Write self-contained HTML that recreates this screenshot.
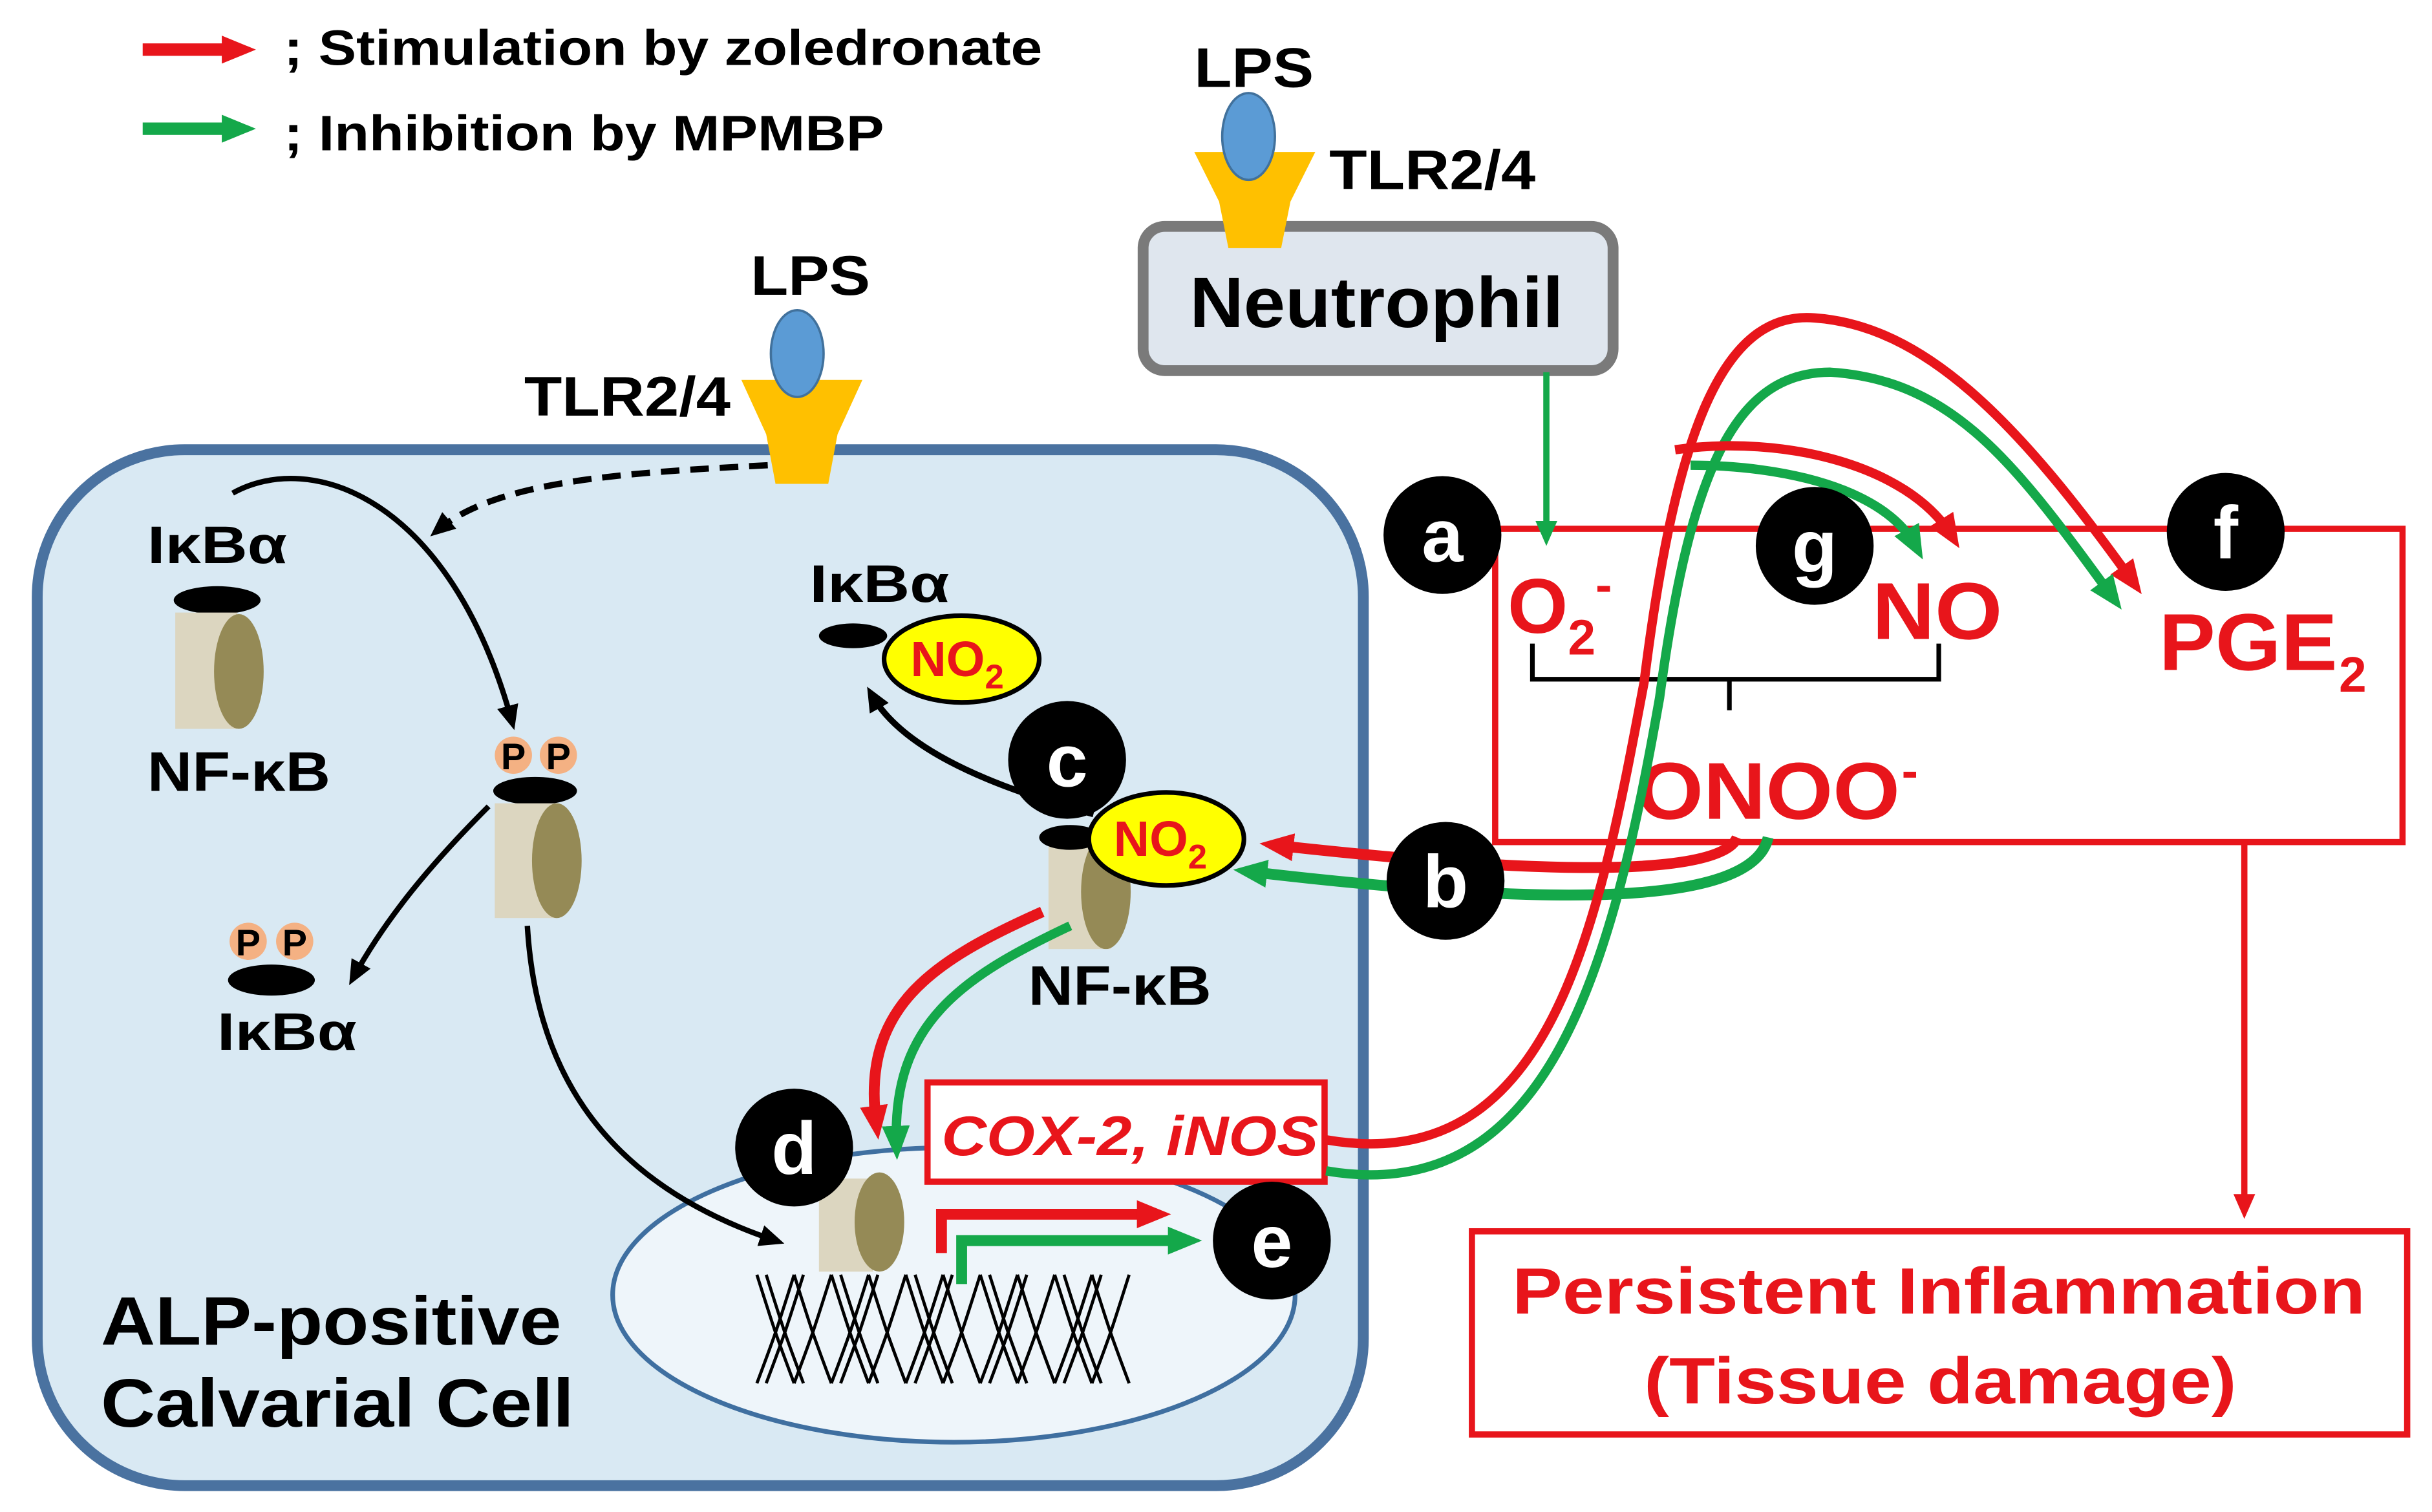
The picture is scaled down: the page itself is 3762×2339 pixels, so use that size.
<!DOCTYPE html>
<html><head><meta charset="utf-8"><style>html,body{margin:0;padding:0;background:#fff}svg{display:block}text{font-family:"Liberation Sans",sans-serif;font-weight:bold}</style></head>
<body>
<svg width="3762" height="2339" viewBox="0 0 1568 975" preserveAspectRatio="none" xmlns="http://www.w3.org/2000/svg">
<defs>
<marker id="ar" markerWidth="22" markerHeight="22" refX="12" refY="11" orient="auto" markerUnits="userSpaceOnUse"><path d="M0,2 L22,11 L0,20 z" fill="#e8151b"/></marker>
<marker id="ag" markerWidth="22" markerHeight="22" refX="12" refY="11" orient="auto" markerUnits="userSpaceOnUse"><path d="M0,2 L22,11 L0,20 z" fill="#14a84a"/></marker>
<marker id="ars" markerWidth="16" markerHeight="16" refX="10" refY="8" orient="auto" markerUnits="userSpaceOnUse"><path d="M0,1 L16,8 L0,15 z" fill="#e8151b"/></marker>
<marker id="ags" markerWidth="16" markerHeight="16" refX="10" refY="8" orient="auto" markerUnits="userSpaceOnUse"><path d="M0,1 L16,8 L0,15 z" fill="#14a84a"/></marker>
<marker id="ak" markerWidth="16" markerHeight="16" refX="10" refY="8" orient="auto" markerUnits="userSpaceOnUse"><path d="M0,1 L16,8 L0,15 z" fill="#000"/></marker>
</defs>
<!-- legend -->
<line x1="92" y1="32" x2="155" y2="32" stroke="#e8151b" stroke-width="8" marker-end="url(#ar)"/>
<text x="183" y="42" font-size="32" textLength="489" lengthAdjust="spacingAndGlyphs">; Stimulation by zoledronate</text>
<line x1="92" y1="83" x2="155" y2="83" stroke="#14a84a" stroke-width="8" marker-end="url(#ag)"/>
<text x="183" y="97" font-size="32" textLength="387" lengthAdjust="spacingAndGlyphs">; Inhibition by MPMBP</text>

<!-- cell -->
<rect x="24" y="290" width="855" height="668" rx="95" fill="#d9e9f3" stroke="#4a72a0" stroke-width="7"/>
<ellipse cx="615" cy="835" rx="220" ry="95" fill="#eef5fa" stroke="#3f6fa0" stroke-width="3"/>

<!-- neutrophil -->
<rect x="737" y="146" width="303" height="93" rx="14" fill="#dfe6ee" stroke="#7a7a7a" stroke-width="7"/>
<text x="767" y="211" font-size="46" textLength="241" lengthAdjust="spacingAndGlyphs">Neutrophil</text>
<path d="M770,98 L848,98 L832,130 L826,160 L792,160 L786,130 Z" fill="#ffc000"/>
<ellipse cx="805" cy="88" rx="17" ry="28" fill="#5b9bd5" stroke="#41719c" stroke-width="1.5"/>
<text x="770" y="56" font-size="36" textLength="77" lengthAdjust="spacingAndGlyphs">LPS</text>
<text x="857" y="122" font-size="36" textLength="133" lengthAdjust="spacingAndGlyphs">TLR2/4</text>

<!-- cell receptor -->
<path d="M478,245 L556,245 L540,280 L534,312 L500,312 L494,280 Z" fill="#ffc000"/>
<ellipse cx="514" cy="228" rx="17" ry="28" fill="#5b9bd5" stroke="#41719c" stroke-width="1.5"/>
<text x="484" y="190" font-size="36" textLength="77" lengthAdjust="spacingAndGlyphs">LPS</text>
<text x="338" y="268" font-size="36" textLength="133" lengthAdjust="spacingAndGlyphs">TLR2/4</text>
<path d="M495,300 C400,305 320,310 282,342" fill="none" stroke="#000" stroke-width="4" stroke-dasharray="12,7" marker-end="url(#ak)"/>

<!-- IkBa / NF-kB left -->
<text x="95" y="363" font-size="34" textLength="90" lengthAdjust="spacingAndGlyphs">IκBα</text>
<ellipse cx="140" cy="387" rx="28" ry="9" fill="#000"/>
<rect x="113" y="395" width="40" height="75" fill="#dcd6c0"/>
<ellipse cx="154" cy="433" rx="16" ry="37" fill="#958a56"/>
<text x="95" y="510" font-size="36" textLength="118" lengthAdjust="spacingAndGlyphs">NF-κB</text>
<path d="M150,318 C200,290 290,320 330,465" fill="none" stroke="#000" stroke-width="3.5" marker-end="url(#ak)"/>

<!-- PP middle -->
<circle cx="331" cy="487" r="12" fill="#f4b183"/><circle cx="360" cy="487" r="12" fill="#f4b183"/>
<text x="331" y="496" font-size="24" text-anchor="middle">P</text><text x="360" y="496" font-size="24" text-anchor="middle">P</text>
<ellipse cx="345" cy="510" rx="27" ry="9" fill="#000"/>
<rect x="319" y="518" width="40" height="74" fill="#dcd6c0"/>
<ellipse cx="359" cy="555" rx="16" ry="37" fill="#958a56"/>
<path d="M315,520 C280,555 250,590 228,630" fill="none" stroke="#000" stroke-width="3.5" marker-end="url(#ak)"/>
<path d="M340,597 C345,680 380,760 500,800" fill="none" stroke="#000" stroke-width="3.5" marker-end="url(#ak)"/>

<circle cx="160" cy="607" r="12" fill="#f4b183"/><circle cx="190" cy="607" r="12" fill="#f4b183"/>
<text x="160" y="616" font-size="24" text-anchor="middle">P</text><text x="190" y="616" font-size="24" text-anchor="middle">P</text>
<ellipse cx="175" cy="632" rx="28" ry="10" fill="#000"/>
<text x="140" y="677" font-size="34" textLength="90" lengthAdjust="spacingAndGlyphs">IκBα</text>

<!-- IkBa NO2 top -->
<text x="522" y="388" font-size="34" textLength="90" lengthAdjust="spacingAndGlyphs">IκBα</text>
<ellipse cx="550" cy="410" rx="22" ry="8" fill="#000"/>
<ellipse cx="620" cy="425" rx="50" ry="28" fill="#ffff00" stroke="#000" stroke-width="3"/>
<text x="587" y="436" font-size="32" fill="#e8151b">NO<tspan font-size="22" dy="8">2</tspan></text>
<path d="M705,525 C630,505 580,480 562,448" fill="none" stroke="#000" stroke-width="4" marker-end="url(#ak)"/>

<!-- NF-kB c -->
<rect x="676" y="540" width="40" height="72" fill="#dcd6c0"/>
<ellipse cx="713" cy="575" rx="16" ry="37" fill="#958a56"/>
<ellipse cx="690" cy="540" rx="20" ry="8" fill="#000"/>
<ellipse cx="752" cy="541" rx="50" ry="30" fill="#ffff00" stroke="#000" stroke-width="3"/>
<text x="718" y="552" font-size="32" fill="#e8151b">NO<tspan font-size="22" dy="8">2</tspan></text>
<text x="663" y="648" font-size="36" textLength="118" lengthAdjust="spacingAndGlyphs">NF-κB</text>

<!-- red box -->
<rect x="964" y="341" width="585" height="202" fill="none" stroke="#e8151b" stroke-width="4"/>
<text x="972" y="408" font-size="50" fill="#e8151b">O<tspan font-size="32" dy="14">2</tspan><tspan font-size="32" dy="-34">-</tspan></text>
<text x="1207" y="412" font-size="52" fill="#e8151b" textLength="84" lengthAdjust="spacingAndGlyphs">NO</text>
<text x="1392" y="432" font-size="52" fill="#e8151b" textLength="115" lengthAdjust="spacingAndGlyphs">PGE</text><text x="1508" y="446" font-size="32" fill="#e8151b">2</text>
<path d="M988,415 L988,438 L1115,438 L1115,458 M1115,438 L1250,438 L1250,415" fill="none" stroke="#000" stroke-width="3"/>
<text x="1055" y="528" font-size="52" fill="#e8151b" textLength="170" lengthAdjust="spacingAndGlyphs">ONOO</text><text x="1226" y="508" font-size="32" fill="#e8151b">-</text>

<!-- persistent -->
<rect x="949" y="794" width="603" height="131" fill="#fff" stroke="#e8151b" stroke-width="4"/>
<text x="975" y="847" font-size="42" fill="#e8151b" textLength="550" lengthAdjust="spacingAndGlyphs">Persistent Inflammation</text>
<text x="1060" y="905" font-size="42" fill="#e8151b" textLength="382" lengthAdjust="spacingAndGlyphs">(Tissue damage)</text>
<line x1="1447" y1="543" x2="1447" y2="780" stroke="#e8151b" stroke-width="4" marker-end="url(#ars)"/>
<line x1="997" y1="240" x2="997" y2="346" stroke="#14a84a" stroke-width="4" marker-end="url(#ags)"/>

<!-- b arrows -->
<path d="M1120,540 C1110,565 1000,565 822,545" fill="none" stroke="#e8151b" stroke-width="7" marker-end="url(#ar)"/>
<path d="M1140,540 C1130,585 1000,585 805,562" fill="none" stroke="#14a84a" stroke-width="7" marker-end="url(#ag)"/>

<!-- COX box -->
<rect x="598" y="698" width="256" height="64" fill="#fff" stroke="#e8151b" stroke-width="4"/>
<text x="607" y="745" font-size="36" font-style="italic" fill="#e8151b" textLength="243" lengthAdjust="spacingAndGlyphs">COX-2, iNOS</text>

<!-- big loops -->
<path d="M855,735 C1000,760 1030,600 1060,440 C1080,280 1110,200 1170,205 C1240,210 1300,270 1375,375" fill="none" stroke="#e8151b" stroke-width="6" marker-end="url(#ar)"/>
<path d="M855,755 C1000,780 1040,620 1070,450 C1090,300 1120,240 1180,240 C1260,245 1300,300 1362,385" fill="none" stroke="#14a84a" stroke-width="6" marker-end="url(#ag)"/>
<path d="M1080,290 C1150,280 1230,300 1258,345" fill="none" stroke="#e8151b" stroke-width="6" marker-end="url(#ar)"/>
<path d="M1090,300 C1150,300 1215,315 1235,352" fill="none" stroke="#14a84a" stroke-width="6" marker-end="url(#ag)"/>

<!-- NF-kB to d -->
<path d="M672,588 C600,620 555,650 565,725" fill="none" stroke="#e8151b" stroke-width="7" marker-end="url(#ar)"/>
<path d="M690,597 C620,630 575,660 578,738" fill="none" stroke="#14a84a" stroke-width="6" marker-end="url(#ag)"/>

<!-- nucleus content -->
<rect x="528" y="760" width="35" height="60" fill="#dcd6c0"/>
<ellipse cx="567" cy="788" rx="16" ry="32" fill="#958a56"/>
<g fill="none" stroke="#000" stroke-width="2">
<path d="M488,822 C500,860 500,860 512,892 M512,822 C500,860 500,860 488,892 M512,822 C524,860 524,860 536,892 M536,822 C524,860 524,860 512,892 M536,822 C548,860 548,860 560,892 M560,822 C548,860 548,860 536,892 M560,822 C572,860 572,860 584,892 M584,822 C572,860 572,860 560,892 M584,822 C596,860 596,860 608,892 M608,822 C596,860 596,860 584,892 M608,822 C620,860 620,860 632,892 M632,822 C620,860 620,860 608,892 M632,822 C644,860 644,860 656,892 M656,822 C644,860 644,860 632,892 M656,822 C668,860 668,860 680,892 M680,822 C668,860 668,860 656,892 M680,822 C692,860 692,860 704,892 M704,822 C692,860 692,860 680,892 M704,822 C716,860 716,860 728,892 M728,822 C716,860 716,860 704,892"/>
<path d="M494,822 C506,860 506,860 518,892 M518,822 C506,860 506,860 494,892 M542,822 C554,860 554,860 566,892 M566,822 C554,860 554,860 542,892 M590,822 C602,860 602,860 614,892 M614,822 C602,860 602,860 590,892 M638,822 C650,860 650,860 662,892 M662,822 C650,860 650,860 638,892 M686,822 C698,860 698,860 710,892 M710,822 C698,860 698,860 686,892"/>
</g>
<path d="M607,808 L607,783 L745,783" fill="none" stroke="#e8151b" stroke-width="7" marker-end="url(#ar)"/>
<path d="M620,828 L620,800 L765,800" fill="none" stroke="#14a84a" stroke-width="7" marker-end="url(#ag)"/>

<text x="65" y="867" font-size="44" textLength="297" lengthAdjust="spacingAndGlyphs">ALP-positive</text>
<text x="65" y="920" font-size="44" textLength="305" lengthAdjust="spacingAndGlyphs">Calvarial Cell</text>

<!-- letter circles -->
<g font-size="48" fill="#fff" text-anchor="middle">
<circle cx="930" cy="345" r="38" fill="#000"/><text x="930" y="362">a</text>
<circle cx="932" cy="568" r="38" fill="#000"/><text x="932" y="585">b</text>
<circle cx="688" cy="490" r="38" fill="#000"/><text x="688" y="507">c</text>
<circle cx="512" cy="740" r="38" fill="#000"/><text x="512" y="757">d</text>
<circle cx="820" cy="800" r="38" fill="#000"/><text x="820" y="817">e</text>
<circle cx="1435" cy="343" r="38" fill="#000"/><text x="1435" y="360">f</text>
<circle cx="1170" cy="352" r="38" fill="#000"/><text x="1170" y="369">g</text>
</g>
</svg>
</body></html>
